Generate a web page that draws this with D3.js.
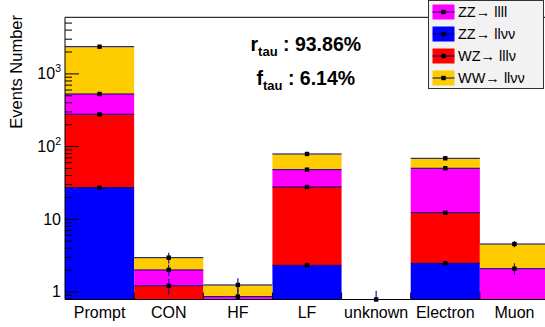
<!DOCTYPE html>
<html>
<head>
<meta charset="utf-8">
<script src="https://cdn.jsdelivr.net/npm/d3@7"></script>
<style>
  html, body { margin: 0; padding: 0; background: #fff; }
  svg { display: block; font-family: "Liberation Sans", Arial, Helvetica, sans-serif; }
</style>
</head>
<body>
<svg id="chart" width="545" height="327"></svg>
<script>
// Lepton origin categories
const categories = ["Prompt", "CON", "HF", "LF", "unknown", "Electron", "Muon"];

// Per-process yields in each category (stacked bottom to top)
const zzllvv = [26.8, 0, 0, 2.29, 0.02, 2.44, 0];
const wzlllv = [247, 1.20, 0, 25.1, 0, 9.7, 0];
const zzllll = [247, 0.78, 0.85, 20.0, 0, 37.4, 2.06];
const wwllvv = [1810, 0.94, 0.38, 30.5, 0, 18.4, 2.44];

// Statistical uncertainty on each cumulative stack level
const errZZllvv = [1.0, 0, 0, 0.2, 1.0, 0.2, 0];
const errWZlllv = [4, 0.3, 0, 0.8, 0, 0.5, 0];
const errZZllll = [5, 0.35, 0.25, 1.0, 0, 1.0, 0.38];
const errWWllvv = [20, 0.5, 0.29, 2.0, 0, 1.5, 0.44];

// Axis ticks
const yMajorTicks = [1, 10, 100, 1000];
const yTickLabels = ["1", "10", "10^2", "10^3"];

// Fractions quoted on the plot
const rTau = "93.86%";
const fTau = "6.14%";

const series = [
  { key: "zzllvv", label: "ZZ\u2192 ll\u03bd\u03bd", color: "#0000ff", values: zzllvv, errors: errZZllvv },
  { key: "wzlllv", label: "WZ\u2192 lll\u03bd", color: "#ff0000", values: wzlllv, errors: errWZlllv },
  { key: "zzllll", label: "ZZ\u2192 llll", color: "#ff00ff", values: zzllll, errors: errZZllll },
  { key: "wwllvv", label: "WW\u2192 ll\u03bd\u03bd", color: "#ffcc00", values: wwllvv, errors: errWWllvv }
];
const legendOrder = ["zzllll", "zzllvv", "wzlllv", "wwllvv"];

const svg = d3.select("#chart");
const frame = { left: 65, right: 549, top: 17.3, bottom: 299.5 };

const x = d3.scaleBand().domain(categories).range([frame.left, frame.right]).padding(0);
const y = d3.scaleLog().domain([0.776, 5910]).range([frame.bottom, frame.top]).clamp(true);
const yPos = v => v > 0 ? y(v) : frame.bottom;

// Build the stacked table
const rows = categories.map((c, i) => {
  const r = { cat: c };
  series.forEach(s => { r[s.key] = s.values[i]; });
  return r;
});
const stacked = d3.stack().keys(series.map(s => s.key))(rows);

const plot = svg.append("g");

// Filled stack segments
stacked.forEach((layer, li) => {
  const s = series[li];
  plot.append("g").selectAll("rect")
    .data(layer.filter(d => d[1] > d[0]))
    .join("rect")
    .attr("x", d => x(d.data.cat))
    .attr("width", x.bandwidth())
    .attr("y", d => yPos(d[1]))
    .attr("height", d => Math.max(0, yPos(d[0]) - yPos(d[1])))
    .attr("fill", s.color);
});

// Histogram top outlines
stacked.forEach((layer, li) => {
  plot.append("g").selectAll("line")
    .data(layer.filter(d => series[li].values[categories.indexOf(d.data.cat)] > 0))
    .join("line")
    .attr("x1", d => x(d.data.cat))
    .attr("x2", d => x(d.data.cat) + x.bandwidth())
    .attr("y1", d => yPos(d[1]))
    .attr("y2", d => yPos(d[1]))
    .attr("stroke", "#000080")
    .attr("stroke-width", 1);
});

// Error bars and markers at each stack level
stacked.forEach((layer, li) => {
  const s = series[li];
  const pts = layer.map((d, i) => ({ cat: d.data.cat, top: d[1], err: s.errors[i], v: s.values[i] }))
    .filter(p => p.v > 0);
  const g = plot.append("g");
  g.selectAll("line")
    .data(pts.filter(p => p.err > 0))
    .join("line")
    .attr("x1", p => x(p.cat) + x.bandwidth() / 2)
    .attr("x2", p => x(p.cat) + x.bandwidth() / 2)
    .attr("y1", p => yPos(p.top + p.err))
    .attr("y2", p => yPos(p.top - p.err))
    .attr("stroke", "#1a1a9a")
    .attr("stroke-width", 1.2);
  g.selectAll("rect")
    .data(pts)
    .join("rect")
    .attr("x", p => x(p.cat) + x.bandwidth() / 2 - 2.2)
    .attr("y", p => yPos(p.top) - 2.2)
    .attr("width", 4.4)
    .attr("height", 4.4)
    .attr("fill", "#000");
});

// Frame
const axisColor = "#000";
svg.append("line").attr("x1", frame.left).attr("x2", frame.right)
  .attr("y1", frame.top).attr("y2", frame.top).attr("stroke", axisColor);
svg.append("line").attr("x1", frame.left).attr("x2", frame.left)
  .attr("y1", frame.top).attr("y2", frame.bottom).attr("stroke", axisColor);
svg.append("line").attr("x1", frame.left).attr("x2", frame.right)
  .attr("y1", frame.bottom).attr("y2", frame.bottom).attr("stroke", axisColor);

// Y axis ticks: majors with log minors
const yMinor = [];
for (let e = -1; e <= 3; e++) {
  for (let m = 2; m <= 9; m++) {
    const v = m * Math.pow(10, e);
    if (v >= y.domain()[0] && v <= y.domain()[1]) yMinor.push(v);
  }
}
const yAxisMinor = d3.axisRight(y).tickValues(yMinor).tickSize(7).tickFormat("");
const yAxisMajor = d3.axisRight(y).tickValues(yMajorTicks).tickSize(14).tickFormat("");
[yAxisMinor, yAxisMajor].forEach(ax => {
  const g = svg.append("g").attr("transform", `translate(${frame.left},0)`).call(ax);
  g.select(".domain").remove();
  g.selectAll(".tick line").attr("stroke", "#000");
});

// Y tick labels (powers of ten with superscripts)
const labG = svg.append("g").attr("font-size", 16).attr("fill", "#000");
yMajorTicks.forEach((v, i) => {
  const parts = yTickLabels[i].split("^");
  const t = labG.append("text")
    .attr("x", 61)
    .attr("y", y(v) + 6)
    .attr("text-anchor", "end");
  t.append("tspan").text(parts[0]);
  if (parts[1]) {
    t.append("tspan").attr("font-size", 10.5).attr("dy", -7).text(parts[1]);
  }
});

// X axis: bin-edge ticks and category labels
const xAxis = d3.axisTop(x).tickSize(0).tickFormat("");
const xg = svg.append("g").attr("transform", `translate(0,${frame.bottom})`).call(xAxis);
xg.select(".domain").remove();
xg.selectAll("line.edge")
  .data(categories.slice(1))
  .join("line")
  .attr("x1", c => x(c)).attr("x2", c => x(c))
  .attr("y1", 0).attr("y2", -7)
  .attr("stroke", "#000");
svg.append("g").selectAll("text")
  .data(categories)
  .join("text")
  .attr("x", c => x(c) + x.bandwidth() / 2)
  .attr("y", 318)
  .attr("text-anchor", "middle")
  .attr("font-size", 16)
  .attr("fill", "#000")
  .text(c => c);

// Y axis title
svg.append("text")
  .attr("transform", "translate(22,15) rotate(-90)")
  .attr("text-anchor", "end")
  .attr("font-size", 16.5)
  .attr("fill", "#000")
  .text("Events Number");

// Fraction annotations
function fracLabel(sym, val, xPos, yPos) {
  const t = svg.append("text")
    .attr("x", xPos).attr("y", yPos)
    .attr("font-weight", "bold").attr("font-size", 19.5).attr("fill", "#000");
  t.append("tspan").text(sym);
  t.append("tspan").attr("font-size", 13).attr("dy", 5).text("tau");
  t.append("tspan").attr("dy", -5).text(" : " + val);
}
fracLabel("r", rTau, 250.5, 51);
fracLabel("f", fTau, 256.5, 85);

// Legend
const legend = svg.append("g");
legend.append("rect")
  .attr("x", 428.5).attr("y", 0.5).attr("width", 115).attr("height", 88)
  .attr("fill", "#f2f2f2").attr("stroke", "#333").attr("stroke-width", 1);
legendOrder.forEach((k, i) => {
  const s = series.find(d => d.key === k);
  const cy = 12 + i * 22;
  const g = legend.append("g");
  g.append("rect").attr("x", 432.5).attr("y", cy - 7.5).attr("width", 22).attr("height", 15).attr("fill", s.color);
  g.append("line").attr("x1", 432.5).attr("x2", 454.5).attr("y1", cy).attr("y2", cy)
    .attr("stroke", "#000080").attr("stroke-width", 1);
  g.append("rect").attr("x", 441.3).attr("y", cy - 2.2).attr("width", 4.4).attr("height", 4.4).attr("fill", "#000");
  g.append("text").attr("x", 458).attr("y", cy + 5).attr("font-size", 14.5).attr("fill", "#000").text(s.label);
});
</script>
</body>
</html>
